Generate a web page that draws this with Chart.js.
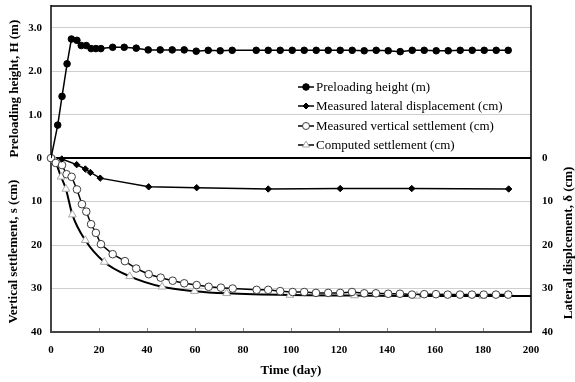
<!DOCTYPE html>
<html>
<head>
<meta charset="utf-8">
<script src="https://cdn.jsdelivr.net/npm/chart.js@4.4.1/dist/chart.umd.min.js"></script>
<style>
  html, body { margin: 0; padding: 0; background: #fff; }
  #wrap { width: 575px; height: 382px; }
</style>
</head>
<body>
<div id="wrap"><canvas id="settlementChart"></canvas></div>
<script>
// preloading height (m)
const heightDays = [0, 2.8, 4.6, 6.7, 8.5, 10.8, 12.6, 14.7, 16.7, 18.7, 20.8,
  25.7, 30.5, 35.5, 40.5, 45.5, 50.5, 55.5, 60.5, 65.5, 70.5, 75.5,
  85.5, 90.5, 95.5, 100.5, 105.5, 110.5, 115.5, 120.5, 125.5, 130.5, 135.5,
  140.5, 145.5, 150.5, 155.5, 160.5, 165.5, 170.5, 175.5, 180.5, 185.5, 190.5];
const heights = [0, 0.76, 1.42, 2.17, 2.74, 2.71, 2.59, 2.59, 2.52, 2.52, 2.52,
  2.55, 2.55, 2.53, 2.49, 2.49, 2.49, 2.49, 2.46, 2.48, 2.47, 2.48,
  2.48, 2.48, 2.48, 2.48, 2.48, 2.48, 2.48, 2.48, 2.48, 2.47, 2.48,
  2.47, 2.45, 2.48, 2.48, 2.47, 2.47, 2.48, 2.48, 2.48, 2.48, 2.48];

// measured lateral displacement (cm)
const lateralDays = [4.5, 10.7, 14.3, 16.4, 20.5, 40.7, 60.7, 90.5, 120.5, 150.3, 190.7];
const lateralCm = [0.2, 1.5, 2.5, 3.3, 4.6, 6.6, 6.8, 7.1, 7.0, 7.0, 7.1];

// measured vertical settlement (cm)
const settleDays = [0, 2, 4.6, 6.5, 8.6, 10.8, 12.9, 14.7, 16.7, 18.7, 20.8,
  25.7, 30.8, 35.5, 40.7, 45.7, 50.7, 55.5, 60.7, 65.7, 70.8, 75.7,
  85.7, 90.5, 95.5, 100.7, 105.5, 110.4, 115.5, 120.5, 125.4, 130.5, 135.4,
  140.5, 145.4, 150.4, 155.5, 160.4, 165.3, 170.4, 175.4, 180.3, 185.4, 190.5];
const settleCm = [0, 1.1, 1.6, 3.7, 4.3, 7.2, 10.6, 12.3, 15.2, 17.2, 19.8,
  22.1, 23.7, 25.4, 26.7, 27.5, 28.2, 28.8, 29.2, 29.6, 29.8, 30.0,
  30.3, 30.3, 30.6, 30.8, 30.8, 31.0, 31.0, 31.0, 30.8, 31.1, 31.1,
  31.2, 31.2, 31.4, 31.3, 31.3, 31.4, 31.4, 31.4, 31.4, 31.4, 31.4];

// computed settlement (cm)
const computedDays = [0, 1.5, 4.2, 6.2, 8.9, 14.3, 22.2, 32.8, 46.3, 59.8, 73.2, 99.6, 126.4, 152.4, 179.9, 200];
const computedCm = [0, 0.5, 4.3, 7.1, 13.0, 18.9, 23.9, 27.2, 29.6, 30.6, 31.1, 31.5, 31.6, 31.7, 31.7, 31.7];

const seriesNames = [
  "Preloading height (m)",
  "Measured lateral displacement (cm)",
  "Measured vertical settlement (cm)",
  "Computed settlement (cm)",
];

const timeTicks = [0, 20, 40, 60, 80, 100, 120, 140, 160, 180, 200];

// one shared vertical scale: H*10 above zero, settlement / displacement below
const Y_MIN = -40;
const Y_MAX = 35;

const serif = "'Liberation Serif', 'Times New Roman', serif";

function toPoints(days, values, factor) {
  return days.map((d, i) => ({ x: d, y: values[i] * factor }));
}

function fixVertical(width) {
  return (scale) => {
    scale.width = width;
    scale.paddingTop = 0;
    scale.paddingBottom = 0;
  };
}

const frameAndTitles = {
  id: "frameAndTitles",
  beforeDatasetsDraw(chart) {
    const { ctx, chartArea } = chart;
    const x = chart.scales.x;
    ctx.save();
    // small inside tick marks on the time axis
    ctx.strokeStyle = "#8c8c8c";
    ctx.lineWidth = 1;
    timeTicks.slice(1, -1).forEach((t) => {
      const px = Math.round(x.getPixelForValue(t)) + 0.5;
      ctx.beginPath();
      ctx.moveTo(px, chartArea.bottom - 1);
      ctx.lineTo(px, chartArea.bottom - 4);
      ctx.stroke();
    });
    // top and right frame
    ctx.strokeStyle = "#000";
    ctx.lineWidth = 1.5;
    ctx.beginPath();
    ctx.moveTo(chartArea.left, chartArea.top);
    ctx.lineTo(chartArea.right, chartArea.top);
    ctx.lineTo(chartArea.right, chartArea.bottom);
    ctx.stroke();
    ctx.restore();
  },
  afterDraw(chart) {
    const { ctx } = chart;
    const y = chart.scales.y;
    const titles = [
      { text: "Preloading height, H (m)", x: 15, y: y.getPixelForValue(16) },
      { text: "Vertical settlement, s (cm)", x: 14, y: y.getPixelForValue(-21.5) },
      { text: "Lateral displcement, \u03b4 (cm)", x: 569, y: y.getPixelForValue(-19.5) },
    ];
    ctx.save();
    ctx.fillStyle = "#000";
    ctx.font = `bold 13px ${serif}`;
    ctx.textAlign = "center";
    ctx.textBaseline = "middle";
    titles.forEach((t) => {
      ctx.save();
      ctx.translate(t.x, t.y);
      ctx.rotate(-Math.PI / 2);
      ctx.fillText(t.text, 0, 0);
      ctx.restore();
    });

    // legend inside the plot
    const lx = 298;
    const rows = [87, 106, 126, 145];
    ctx.font = `13px ${serif}`;
    ctx.textAlign = "left";
    chart.data.datasets.forEach((ds, i) => {
      const ry = rows[i];
      ctx.strokeStyle = "#000";
      ctx.lineWidth = 1.5;
      ctx.beginPath();
      ctx.moveTo(lx, ry);
      ctx.lineTo(lx + 16, ry);
      ctx.stroke();
      ctx.fillStyle = ds.pointBackgroundColor;
      ctx.strokeStyle = ds.pointBorderColor;
      ctx.lineWidth = ds.pointBorderWidth;
      Chart.helpers.drawPoint(ctx, {
        pointStyle: ds.pointStyle,
        radius: ds.legendRadius,
        rotation: 0,
        borderWidth: ds.pointBorderWidth,
      }, lx + 8, ry);
      ctx.fillStyle = "#000";
      ctx.fillText(ds.label, lx + 18, ry + 1);
    });
    ctx.restore();
  },
};

function createChart() {
  const canvas = document.getElementById("settlementChart");

  new Chart(canvas, {
    type: "line",
    data: {
      datasets: [
        {
          label: seriesNames[0],
          data: toPoints(heightDays, heights, 10),
          yAxisID: "y",
          borderColor: "#000",
          borderWidth: 1.5,
          pointStyle: "circle",
          pointRadius: heightDays.map((d, i) => (i === 0 ? 0 : 3.3)),
          pointBackgroundColor: "#000",
          pointBorderColor: "#000",
          pointBorderWidth: 1,
          legendRadius: 3.3,
          tension: 0,
        },
        {
          label: seriesNames[1],
          data: toPoints(lateralDays, lateralCm, -1),
          yAxisID: "y2",
          borderColor: "#000",
          borderWidth: 1.5,
          pointStyle: "rectRot",
          pointRadius: 3.2,
          pointBackgroundColor: "#000",
          pointBorderColor: "#000",
          pointBorderWidth: 1,
          legendRadius: 3,
          tension: 0,
        },
        {
          label: seriesNames[2],
          data: toPoints(settleDays, settleCm, -1),
          yAxisID: "y",
          borderColor: "#000",
          borderWidth: 1.5,
          pointStyle: "circle",
          pointRadius: 3.8,
          pointBackgroundColor: "#fff",
          pointBorderColor: "#3c3c3c",
          pointBorderWidth: 1,
          legendRadius: 3.5,
          tension: 0,
          clip: false,
        },
        {
          label: seriesNames[3],
          data: toPoints(computedDays, computedCm, -1),
          yAxisID: "y",
          borderColor: "#000",
          borderWidth: 2,
          pointStyle: "triangle",
          pointRadius: computedDays.map((d, i) => (i === 0 || i === computedDays.length - 1 ? 0 : 4.5)),
          pointBackgroundColor: "#fff",
          pointBorderColor: "#a8a8a8",
          pointBorderWidth: 1,
          legendRadius: 4,
          cubicInterpolationMode: "monotone",
        },
      ],
    },
    options: {
      responsive: true,
      maintainAspectRatio: false,
      animation: false,
      layout: { padding: { top: 6, left: 0, right: 0, bottom: 0 } },
      scales: {
        x: {
          type: "linear",
          min: 0,
          max: 200,
          afterBuildTicks: (scale) => {
            scale.ticks = timeTicks.map((v) => ({ value: v }));
          },
          afterFit: (scale) => {
            scale.height = 50;
            scale.paddingLeft = 0;
            scale.paddingRight = 0;
          },
          ticks: {
            color: "#000",
            font: { family: serif, size: 11, weight: "bold" },
            padding: 12,
            maxRotation: 0,
          },
          grid: { display: true, drawOnChartArea: false, drawTicks: false },
          border: { color: "#444", width: 2 },
          title: {
            display: true,
            text: "Time (day)",
            color: "#000",
            font: { family: serif, size: 13, weight: "bold" },
            padding: { top: 0, bottom: 4 },
          },
        },
        y: {
          type: "linear",
          position: "left",
          min: Y_MIN,
          max: Y_MAX,
          afterFit: fixVertical(51),
          ticks: {
            stepSize: 10,
            includeBounds: false,
            color: "#000",
            padding: 9,
            font: { family: serif, size: 11, weight: "bold" },
            callback: (v) => (v > 0 ? (v / 10).toFixed(1) : v === 0 ? "0" : String(-v)),
          },
          grid: {
            drawTicks: false,
            color: (ctx) => {
              const v = ctx.tick && ctx.tick.value;
              if (v === 0) return "#000";
              if (v === Y_MIN) return "rgba(0,0,0,0)";
              return "#cfcfcf";
            },
            lineWidth: (ctx) => (ctx.tick && ctx.tick.value === 0 ? 2 : 1),
          },
          border: { color: "#444", width: 2 },
        },
        y2: {
          type: "linear",
          position: "right",
          min: Y_MIN,
          max: Y_MAX,
          afterFit: fixVertical(44),
          afterBuildTicks: (scale) => {
            scale.ticks = scale.ticks.filter((t) => t.value <= 0);
          },
          ticks: {
            stepSize: 10,
            includeBounds: false,
            color: "#000",
            padding: 11,
            font: { family: serif, size: 11, weight: "bold" },
            callback: (v) => String(-v),
          },
          grid: { display: false, drawTicks: false },
          border: { display: false },
        },
      },
      plugins: {
        legend: { display: false },
        tooltip: { enabled: false },
      },
    },
    plugins: [frameAndTitles],
  });
}

window.addEventListener("DOMContentLoaded", createChart);
</script>
</body>
</html>
